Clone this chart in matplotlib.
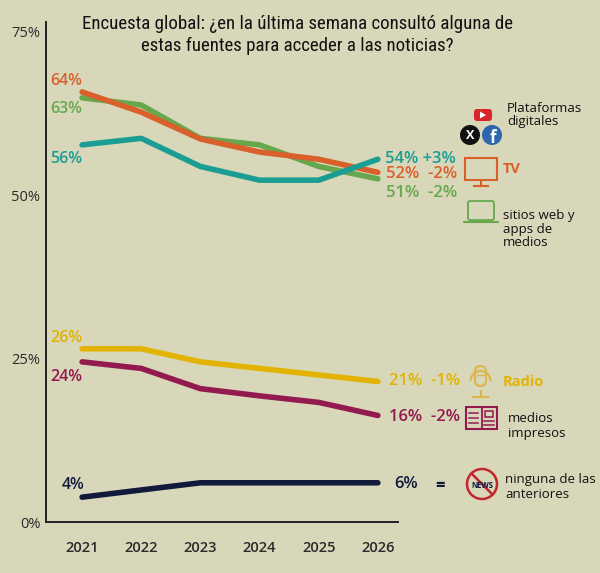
import numpy as np
import matplotlib.pyplot as plt
from matplotlib.patches import Circle, Rectangle, FancyBboxPatch, Polygon, Arc

# datos
years = [2021, 2022, 2023, 2024, 2025, 2026]
plataformas = [64.9, 63.8, 58.7, 57.7, 54.4, 52.5]
tv = [65.8, 62.7, 58.6, 56.6, 55.5, 53.5]
sitios = [57.7, 58.7, 54.4, 52.3, 52.3, 55.5]
radio = [26.5, 26.5, 24.5, 23.5, 22.5, 21.5]
impresos = [24.5, 23.5, 20.4, 19.3, 18.3, 16.3]
ninguna = [3.8, 4.9, 6.0, 6.0, 6.0, 6.0]

start_labels = ['63%', '64%', '56%', '26%', '24%', '4%']
end_labels = ['51%  -2%', '52%  -2%', '54% +3%', '21%  -1%', '16%  -2%', '6%']

bg = '#d8d7ba'
c_green = '#67a84e'
c_orange = '#d9602a'
c_teal = '#1a9d92'
c_yellow = '#e2b300'
c_maroon = '#921a4f'
c_navy = '#121a3c'

plt.rcParams['font.family'] = ['Open Sans', 'DejaVu Sans']

fig = plt.figure(figsize=(6, 5.73), dpi=100, facecolor=bg)
ax = fig.add_axes([46/600, 1-522/573, (398-46)/600, (522-22)/573])
ax.set_facecolor(bg)

series = [plataformas, tv, sitios, radio, impresos, ninguna]
colors = [c_green, c_orange, c_teal, c_yellow, c_maroon, c_navy]
for s, c in zip(series, colors):
    ax.plot(years, s, color=c, lw=4, solid_capstyle='round', solid_joinstyle='round')

ax.set_xlim(2020.39, 2026.34)
ax.set_ylim(0, 76.5)
ax.set_yticks([0, 25, 50, 75])
ax.set_yticklabels(['0%', '25%', '50%', '75%'])
ax.set_xticks(years)
ax.tick_params(length=0, labelsize=10.5, colors='#2a2a2a')
ax.tick_params(axis='x', pad=14)
for t in ax.get_xticklabels():
    t.set_fontweight('semibold')
ax.tick_params(axis='y', pad=4)
for sp in ['top', 'right']:
    ax.spines[sp].set_visible(False)
ax.spines['left'].set_color('#222222')
ax.spines['bottom'].set_color('#222222')
ax.spines['left'].set_linewidth(1.4)
ax.spines['bottom'].set_linewidth(1.4)

# etiquetas de inicio
start_off = [(-23, -8), (-23, 8), (-23, -10), (-23, 8), (-23, -11), (-15, 9)]
for s, c, lab, off in zip(series, colors, start_labels, start_off):
    ax.annotate(lab, (years[0], s[0]), xytext=off, textcoords='offset points',
                color=c, fontsize=11.5, fontweight='semibold', va='center', ha='left')

# etiquetas finales
end_off = [(6, -10), (6, -1.5), (5, 0), (8, 0), (8, -1), (12, -1)]
for s, c, lab, off in zip(series, colors, end_labels, end_off):
    ax.annotate(lab, (years[-1], s[-1]), xytext=off, textcoords='offset points',
                color=c, fontsize=12, fontweight='semibold', va='center', ha='left')

# capa superpuesta en píxeles para título, leyenda e iconos
ov = fig.add_axes([0, 0, 1, 1], facecolor='none')
ov.set_xlim(0, 600)
ov.set_ylim(573, 0)
ov.axis('off')

ov.text(297, 35, 'Encuesta global: ¿en la última semana consultó alguna de\nestas fuentes para acceder a las noticias?',
        ha='center', va='center', fontsize=13.6, color='#111111', linespacing=1.28,
        family=['Roboto Condensed', 'Liberation Sans Narrow', 'Roboto', 'DejaVu Sans'],
        stretch='condensed')

ov.text(440, 486, '=', ha='center', va='center', fontsize=12, fontweight='bold', color=c_navy)

# textos de la leyenda
ov.text(507, 115, 'Plataformas\ndigitales', ha='left', va='center', fontsize=9.5, color='#111111', linespacing=1.1)
ov.text(503, 169, 'TV', ha='left', va='center', fontsize=10.5, fontweight='bold', color=c_orange)
ov.text(503, 229, 'sitios web y\napps de\nmedios', ha='left', va='center', fontsize=9.5, color='#111111', linespacing=1.1)
ov.text(503, 382, 'Radio', ha='left', va='center', fontsize=10.5, fontweight='bold', color=c_yellow)
ov.text(508, 426, 'medios\nimpresos', ha='left', va='center', fontsize=9.5, color='#111111', linespacing=1.1)
ov.text(505, 487, 'ninguna de las\nanteriores', ha='left', va='center', fontsize=9.5, color='#111111', linespacing=1.1)

# iconos: plataformas digitales
ov.add_patch(FancyBboxPatch((474, 109), 18, 12, boxstyle='round,pad=0,rounding_size=3', fc='#d8262b', ec='none'))
ov.add_patch(Polygon([[480, 111.5], [480, 118.5], [486, 115]], fc='white', ec='none'))
ov.add_patch(Circle((470, 135), 10, fc='#111111', ec='none'))
ov.text(470, 135.5, 'X', ha='center', va='center', fontsize=9, fontweight='bold', color='white')
ov.add_patch(Circle((492, 135), 10, fc='#2c67ad', ec='none'))
ov.text(493, 138, 'f', ha='center', va='center', fontsize=12, fontweight='bold', color='white')

# TV
ov.add_patch(Rectangle((465, 158), 32, 22, fc='none', ec=c_orange, lw=1.5))
ov.plot([481, 481], [180, 186], color=c_orange, lw=1.5)
ov.plot([474, 488], [186, 186], color=c_orange, lw=1.5)

# laptop
ov.add_patch(FancyBboxPatch((468, 201), 26, 19, boxstyle='round,pad=0,rounding_size=2', fc='none', ec=c_green, lw=1.3))
ov.plot([464, 498], [222, 222], color=c_green, lw=1.5, solid_capstyle='round')

# micrófono
c_mic = '#dcb64a'
ov.add_patch(FancyBboxPatch((475, 366), 11, 20, boxstyle='round,pad=0,rounding_size=5.5', fc='none', ec=c_mic, lw=1.5))
ov.plot([477, 484], [375, 375], color=c_mic, lw=1.0)
ov.add_patch(Arc((480.5, 381), 20, 20, theta1=180, theta2=360, ec=c_mic, lw=1.5))
ov.plot([480.5, 480.5], [391, 396], color=c_mic, lw=1.5)
ov.plot([473, 488], [396.5, 396.5], color=c_mic, lw=1.5)

# medios impresos
ov.add_patch(Rectangle((466, 407), 31, 22, fc='none', ec=c_maroon, lw=1.5))
ov.plot([481.5, 481.5], [407, 429], color=c_maroon, lw=1.3)
for yy in [413, 418, 423]:
    ov.plot([469, 478], [yy, yy], color=c_maroon, lw=1.1)
ov.add_patch(Rectangle((485, 411), 8, 6, fc='none', ec=c_maroon, lw=1.1))
for yy in [421, 425]:
    ov.plot([484, 494], [yy, yy], color=c_maroon, lw=1.1)

# ninguna
ov.add_patch(Circle((482, 484), 15, fc='none', ec='#c0272d', lw=1.8))
ov.text(482, 485, 'NEWS', ha='center', va='center', fontsize=5.5, fontweight='bold', color=c_navy)
ov.plot([471.5, 492.5], [473.5, 494.5], color='#c0272d', lw=1.8)

plt.savefig('out.png', dpi=100, facecolor=bg)
